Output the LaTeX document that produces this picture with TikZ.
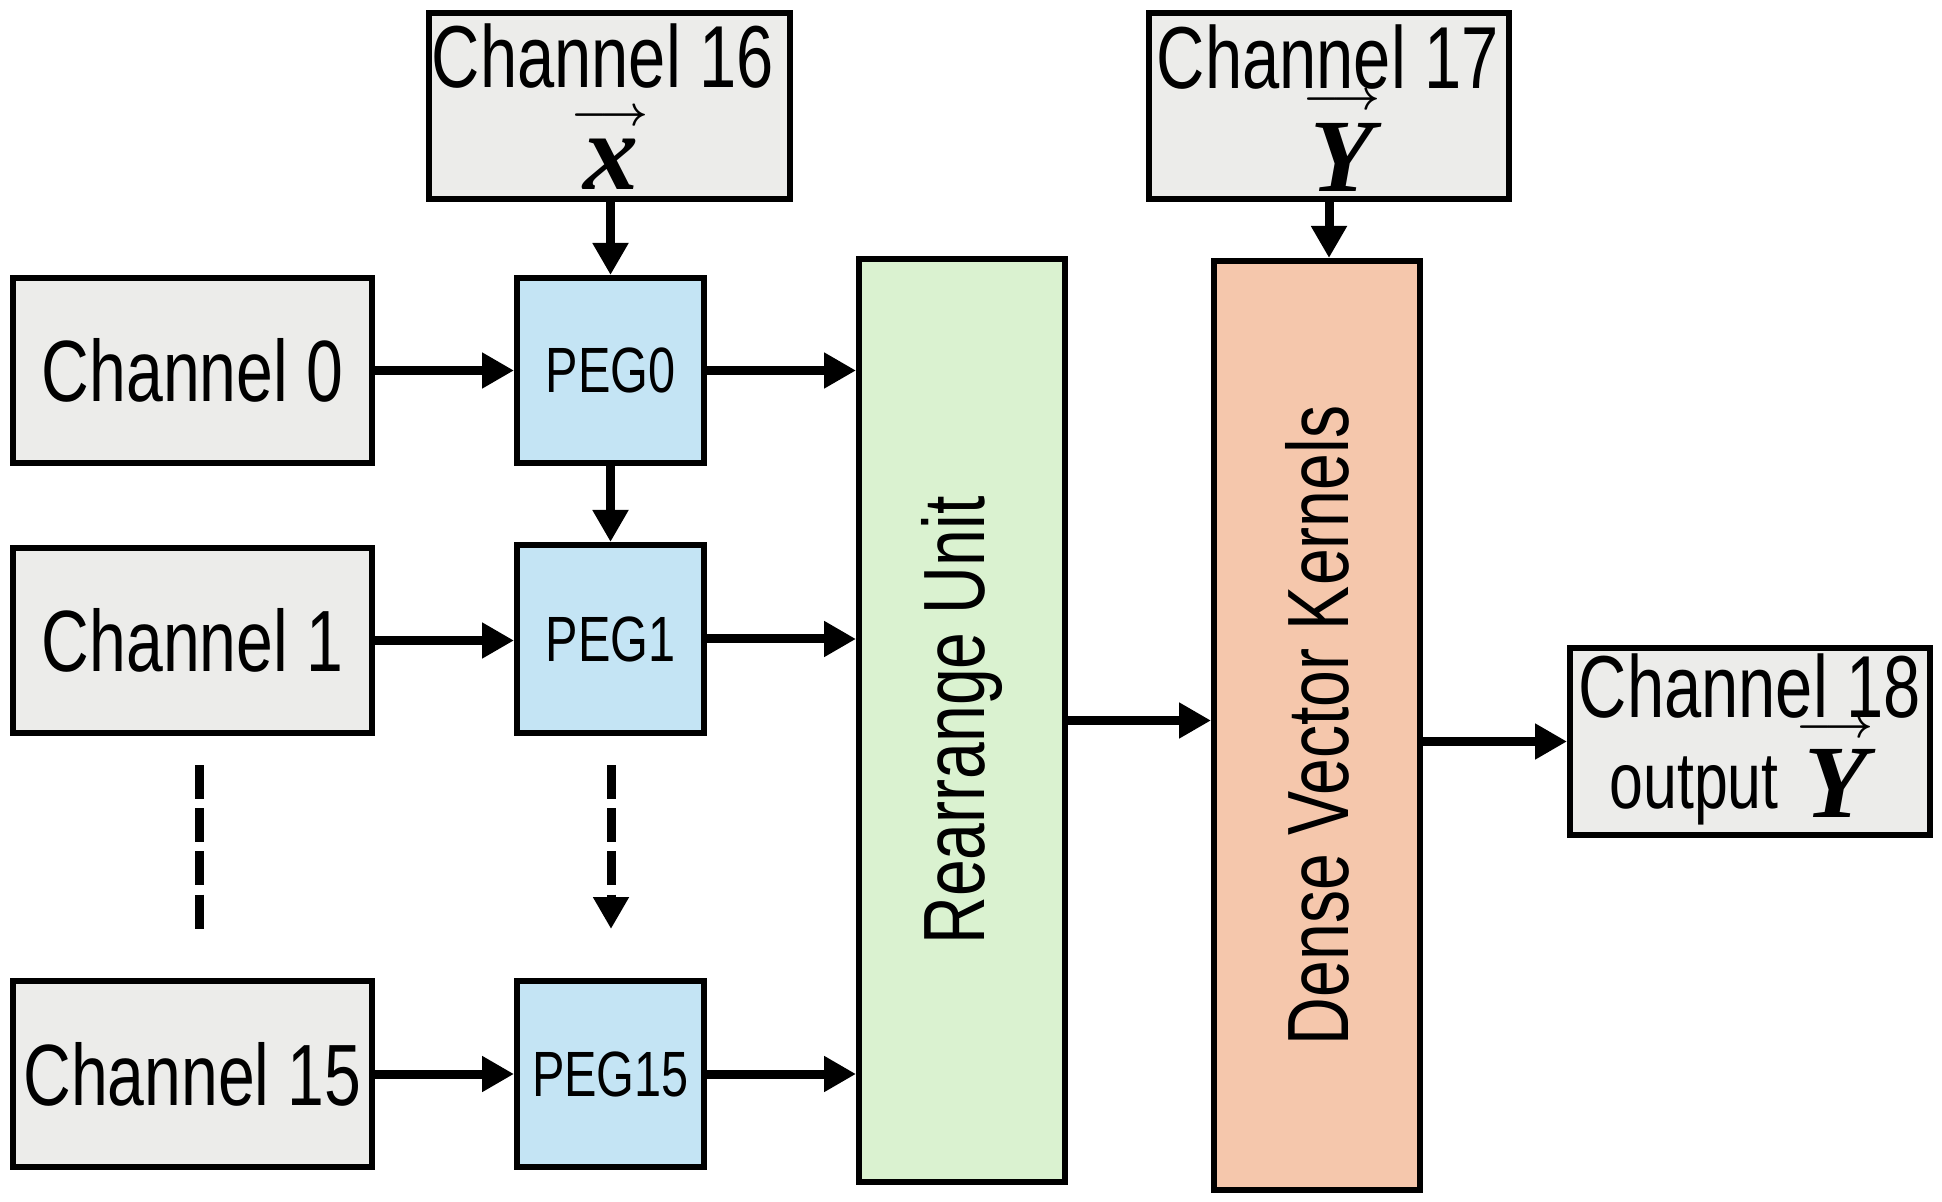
\documentclass[tikz,border=0pt]{standalone}
\usepackage{fontspec}
\setmainfont{Liberation Sans}[FakeStretch=0.76]
\newfontfamily\vecfont{Liberation Serif}
\usetikzlibrary{arrows.meta}
\definecolor{chanfill}{RGB}{236,236,234}
\definecolor{pegblue}{RGB}{196,228,244}
\definecolor{rugreen}{RGB}{218,242,208}
\definecolor{dvksalmon}{RGB}{245,199,172}
\begin{document}
\begin{tikzpicture}[x=0.5pt,y=-0.5pt,
  box/.style={draw=black, line width=3pt, outer sep=1.5pt, inner sep=0pt, rectangle},
  chan/.style={box, fill=chanfill, minimum width=179.5pt, minimum height=92.5pt,
    font=\fontsize{43.5}{50}\selectfont},
  peg/.style={box, fill=pegblue, minimum width=93.5pt, minimum height=92.5pt,
    font=\fontsize{32}{38}\selectfont},
  lbl/.style={inner sep=0pt, font=\fontsize{44}{50}\selectfont},
  vlbl/.style={inner sep=0pt, anchor=base},
  vsym/.style={vlbl, font=\fontsize{#1}{#1}\vecfont\bfseries\itshape},
  varr/.style={inner sep=0pt, font=\fontsize{20}{24}\selectfont\boldmath},
  rot/.style={inner sep=0pt, rotate=90, font=\fontsize{43.5}{50}\selectfont},
  arr/.style={line width=4.5pt, -{Triangle[length=16pt,width=17pt]}},
  dsh/.style={line width=4.5pt, dash pattern=on 17pt off 4.6pt}
]
\useasboundingbox (0,0) rectangle (1942,1202);

% top channels
\node[chan, minimum width=180.5pt, minimum height=93pt] (c16) at (609.5,106) {};
\node[lbl] (t16) at (603,56) {Channel 16};
\node[varr] (a16) at (610,117) {$\longrightarrow$};
\node[vsym=55] (v16) at (611,190) {x};

\node[chan, minimum width=180pt, minimum height=93pt] (c17) at (1329,106) {};
\node[lbl] (t17) at (1328,57) {Channel 17};
\node[varr] (a17) at (1342,101) {$\longrightarrow$};
\node[vsym=52] (v17) at (1342,192) {Y};

% input channels
\node[chan] (c0) at (192.5,370.5) {Channel 0};
\node[chan] (c1) at (192.5,640.5) {Channel 1};
\node[chan, minimum height=93pt] (c15) at (192.5,1074) {Channel 15};

% PEGs
\node[peg] (p0) at (610.5,370.5) {PEG0};
\node[peg, minimum height=94pt] (p1) at (610.5,639) {PEG1};
\node[peg, minimum height=93pt] (p15) at (610.5,1074) {PEG15};

% big units
\node[box, fill=rugreen, minimum width=103pt, minimum height=461.5pt] (ru) at (962,720.5) {};
\node[rot] (rut) at (ru.center) {Rearrange Unit};
\node[box, fill=dvksalmon, minimum width=103pt, minimum height=464.5pt] (dvk) at (1317,725.5) {};
\node[rot] (dvkt) at (dvk.center) {Dense Vector Kernels};

% output channel
\node[chan, minimum width=180pt, minimum height=93.5pt] (c18) at (1750,741.5) {};
\node[lbl] (t18) at (1750,686) {Channel 18};
\node[vlbl, font=\fontsize{40}{46}\selectfont] (o18) at (1694,808) {output};
\node[varr] (a18) at (1835,729) {$\longrightarrow$};
\node[vsym=52] (v18) at (1836,817) {Y};

% connectors
\draw[arr] (c16.south -| p0.north) -- (p0.north);
\draw[arr] (c17.south) -- (c17.south |- dvk.north);
\draw[arr] (c0.east) -- (c0.east -| p0.west);
\draw[arr] (c1.east) -- (c1.east -| p1.west);
\draw[arr] (c15.east) -- (c15.east -| p15.west);
\draw[arr] (p0.east) -- (p0.east -| ru.west);
\draw[arr] (p1.east) -- (p1.east -| ru.west);
\draw[arr] (p15.east) -- (p15.east -| ru.west);
\draw[arr] (p0.south) -- (p1.north);
\draw[arr] (ru.east) -- (ru.east -| dvk.west);
\draw[arr] (c18.west -| dvk.east) -- (c18.west);

% ellipsis dashes
\coordinate (d1a) at (199,765);
\coordinate (d1b) at (199,929);
\coordinate (d2a) at (611,765);
\coordinate (d2b) at (611,929);
\draw[dsh] (d1a) -- (d1b);
\draw[dsh, -{Triangle[length=16pt,width=17pt]}] (d2a) -- (d2b);
\end{tikzpicture}
\end{document}
